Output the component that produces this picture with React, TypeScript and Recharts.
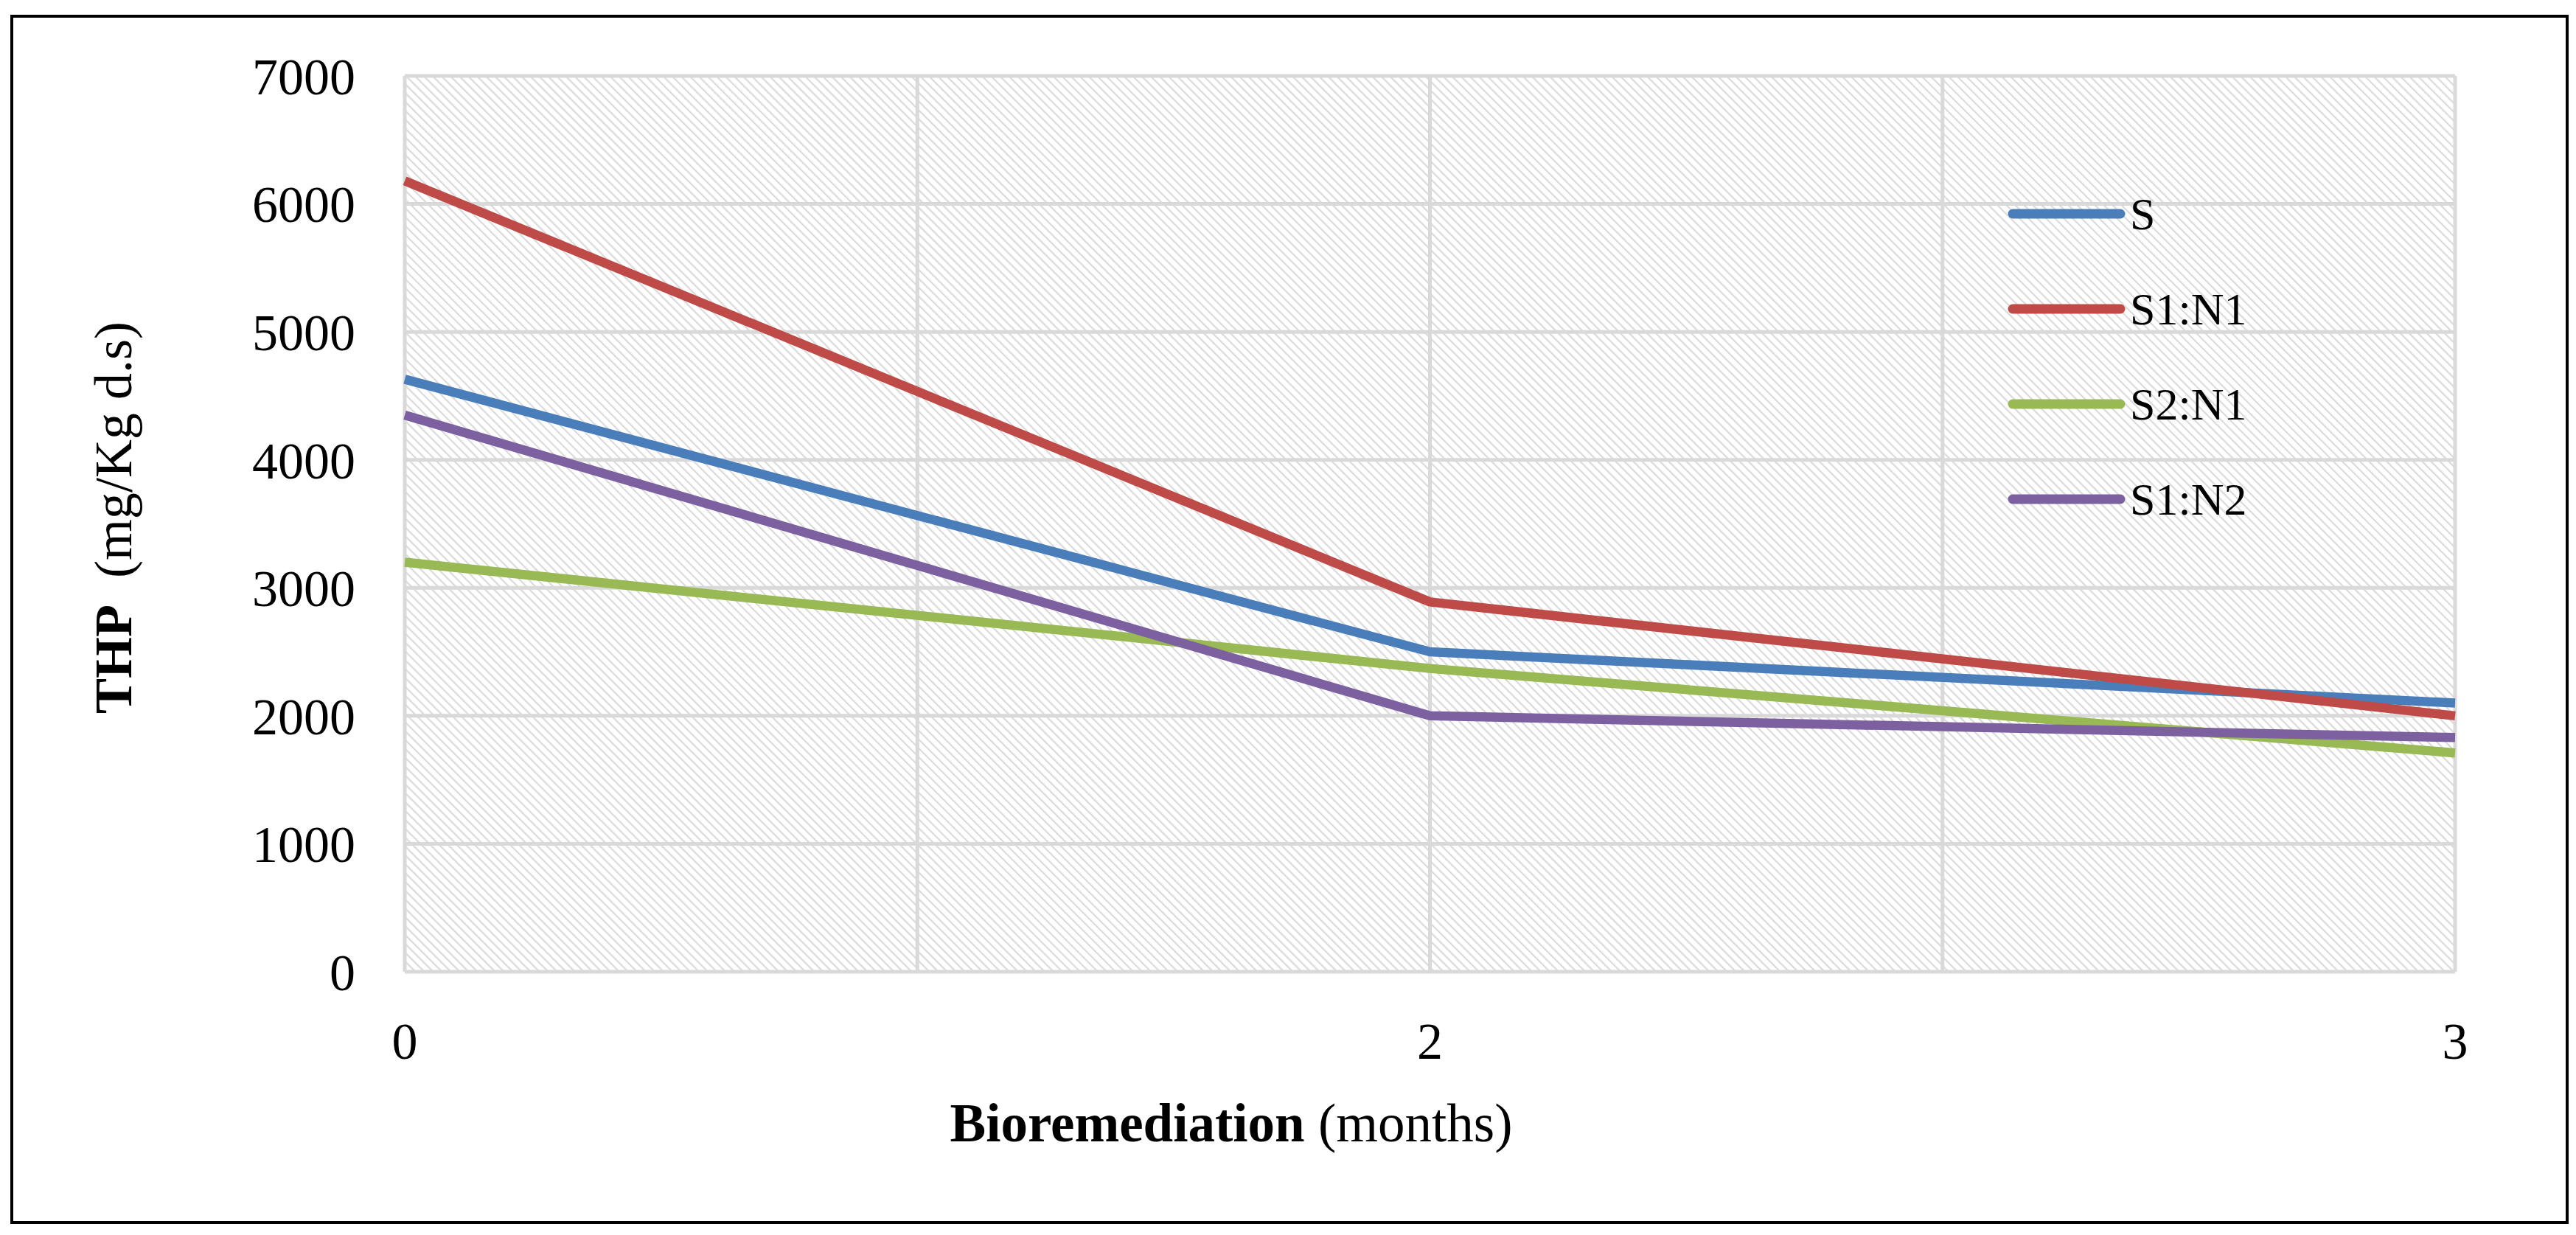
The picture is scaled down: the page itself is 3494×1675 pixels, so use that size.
import { LineChart, Line, XAxis, YAxis, CartesianGrid, Legend } from 'recharts'

const months = ['0', '2', '3']
const sValues = [4630, 2500, 2100]
const s1n1Values = [6180, 2890, 2000]
const s2n1Values = [3200, 2370, 1710]
const s1n2Values = [4350, 2000, 1830]
const yTicks = [0, 1000, 2000, 3000, 4000, 5000, 6000, 7000]

const SERIES = [
  { key: 'S', name: 'S', color: '#4a7ebb', values: sValues },
  { key: 'S1N1', name: 'S1:N1', color: '#be4b48', values: s1n1Values },
  { key: 'S2N1', name: 'S2:N1', color: '#98b954', values: s2n1Values },
  { key: 'S1N2', name: 'S1:N2', color: '#7d60a0', values: s1n2Values },
]

const data = months.map((m, i) => {
  const row: Record<string, string | number> = { month: m }
  SERIES.forEach((s) => {
    row[s.key] = s.values[i]
  })
  return row
})

const FONT = '"Liberation Serif", "Times New Roman", serif'

function LegendBox({ payload }: any) {
  // keep the series order, not the alphabetical one
  const items = SERIES.map((s) => (payload || []).find((p: any) => p.value === s.name)).filter(Boolean)
  return (
    <div style={{ fontFamily: FONT, fontSize: 62, color: '#000' }}>
      {items.map((p: any) => (
        <div key={p.value} style={{ display: 'flex', alignItems: 'center', height: 129 }}>
          <svg width={160} height={20} style={{ display: 'block' }}>
            <line x1={7} y1={10} x2={153} y2={10} stroke={p.color} strokeWidth={13} strokeLinecap="round" />
          </svg>
          <span style={{ marginLeft: 6, lineHeight: 1 }}>{p.value}</span>
        </div>
      ))}
    </div>
  )
}

export default function App() {
  return (
    <div style={{ position: 'absolute', left: 0, top: 0, width: 3494, height: 1675, background: '#fff' }}>
      <div
        style={{
          position: 'absolute',
          left: 14,
          top: 20,
          width: 3470,
          height: 1640,
          border: '4px solid #000',
          boxSizing: 'border-box',
          pointerEvents: 'none',
        }}
      />
      <LineChart
        width={3494}
        height={1675}
        data={data}
        margin={{ top: 103, right: 164, bottom: 297, left: 429 }}
      >
        <defs>
          <pattern id="hatch" patternUnits="userSpaceOnUse" width={8.5} height={8.5} patternTransform="rotate(-45)">
            <rect width={8.5} height={8.5} fill="#ffffff" />
            <line x1={2} y1={0} x2={2} y2={8.5} stroke="#dadada" strokeWidth={2.2} />
          </pattern>
        </defs>
        <CartesianGrid
          fill="url(#hatch)"
          stroke="#d9d9d9"
          strokeWidth={5}
          verticalCoordinatesGenerator={({ offset }: any) =>
            [0, 1, 2, 3, 4].map((i) => offset.left + (i * offset.width) / 4)
          }
        />
        <XAxis
          dataKey="month"
          type="category"
          height={60}
          axisLine={false}
          tickLine={false}
          tickSize={0}
          tickMargin={68}
          tick={{ fontFamily: FONT, fontSize: 70, fill: '#000' }}
        />
        <YAxis
          width={120}
          domain={[0, 7000]}
          ticks={yTicks}
          axisLine={false}
          tickLine={false}
          tickSize={0}
          tickMargin={67}
          tick={{ fontFamily: FONT, fontSize: 70, fill: '#000' }}
        />
        {SERIES.map((s) => (
          <Line
            key={s.key}
            type="linear"
            dataKey={s.key}
            name={s.name}
            stroke={s.color}
            strokeWidth={12.5}
            strokeLinejoin="round"
            dot={false}
            activeDot={false}
            isAnimationActive={false}
          />
        ))}
        <Legend
          layout="vertical"
          verticalAlign="middle"
          align="center"
          itemSorter={null as any}
          content={<LegendBox />}
          wrapperStyle={{ position: 'absolute', left: 2723, top: 225, width: 500 }}
        />
        <text x={1670} y={1548} textAnchor="middle" fontFamily={FONT} fontSize={73} fill="#000">
          <tspan fontWeight="bold">Bioremediation</tspan>
          <tspan> (months)</tspan>
        </text>
        <text
          x={178}
          y={702}
          textAnchor="middle"
          transform="rotate(-90, 178, 702)"
          fontFamily={FONT}
          fontSize={72}
          fill="#000"
        >
          <tspan fontWeight="bold">THP</tspan>
          <tspan>{'\u00a0\u00a0(mg/Kg d.s)'}</tspan>
        </text>
      </LineChart>
    </div>
  )
}
